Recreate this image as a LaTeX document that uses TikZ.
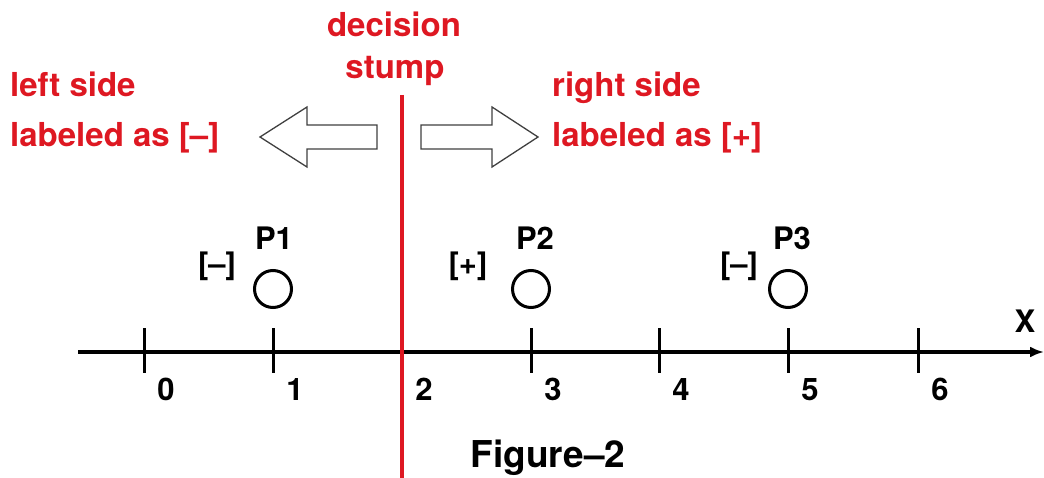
\documentclass[tikz,border=0pt]{standalone}
\usepackage{fontspec}
\setmainfont{TeX Gyre Heros}
\usetikzlibrary{arrows.meta}
\definecolor{stumpred}{RGB}{222,24,34}
\begin{document}
\begin{tikzpicture}[x=1pt,y=-1pt,
  redtxt/.style={text=stumpred,font=\bfseries\fontsize{33}{40}\selectfont,inner sep=0pt},
  blktxt/.style={font=\bfseries\fontsize{31}{36}\selectfont,inner sep=0pt},
  figtxt/.style={font=\bfseries\fontsize{37}{44}\selectfont,inner sep=0pt},
  ptcircle/.style={circle,draw,line width=3pt,minimum size=37pt,inner sep=0pt},
  tickline/.style={line width=3pt},
  axisline/.style={line width=4pt,-{Latex[length=14pt,width=11pt]}},
  blockarrow/.style={draw=black!75,line width=1.3pt,fill=white,line join=miter},
  stumpline/.style={draw=stumpred,line width=3.5pt}]
\useasboundingbox (0,0) rectangle (1044,478);
% axis
\coordinate (ax0) at (78,352);
\coordinate (ax1) at (1044,352);
\draw[axisline] (ax0) -- (ax1);
\node[blktxt,anchor=base] (xlab) at (1025,332) {X};
% ticks and labels
\foreach \i/\x in {0/144,1/273,2/402,3/531,4/659,5/788,6/918}{
  \coordinate (t\i a) at (\x,328);
  \coordinate (t\i b) at (\x,373);
  \draw[tickline] (t\i a) -- (t\i b);
  \node[blktxt,anchor=base] (n\i) at (\x+22,400) {\i};
}
% decision stump
\coordinate (s0) at (402,95);
\coordinate (s1) at (402,478);
\draw[stumpline] (s0) -- (s1);
\node[redtxt,anchor=base] (dec) at (394,37) {decision};
\node[redtxt,anchor=base] (stu) at (395,79) {stump};
% side labels
\node[redtxt,anchor=base west] (ls1) at (10,97) {left side};
\node[redtxt,anchor=base west] (ls2) at (10,147) {labeled as [–]};
\node[redtxt,anchor=base west] (rs1) at (552,97) {right side};
\node[redtxt,anchor=base west] (rs2) at (552,147) {labeled as [+]};
% block arrows
\draw[blockarrow] (377,125) -- (307,125) -- (307,107) -- (260,137) -- (307,167) -- (307,149) -- (377,149) -- cycle;
\draw[blockarrow] (421,125) -- (492,125) -- (492,107) -- (538,137) -- (492,167) -- (492,149) -- (421,149) -- cycle;
% points
\node[ptcircle] (p1) at (273,289) {};
\node[ptcircle] (p2) at (531,289) {};
\node[ptcircle] (p3) at (788,289) {};
\node[blktxt,anchor=base] (p1l) at (274,250) {P1};
\node[blktxt,anchor=base] (p2l) at (535,250) {P2};
\node[blktxt,anchor=base] (p3l) at (792,250) {P3};
\node[blktxt,anchor=base] (c1) at (217,275) {[–]};
\node[blktxt,anchor=base] (c2) at (468,275) {[+]};
\node[blktxt,anchor=base] (c3) at (739,275) {[–]};
% caption
\node[figtxt,anchor=base] (fig) at (548,467) {Figure–2};
\end{tikzpicture}
\end{document}
